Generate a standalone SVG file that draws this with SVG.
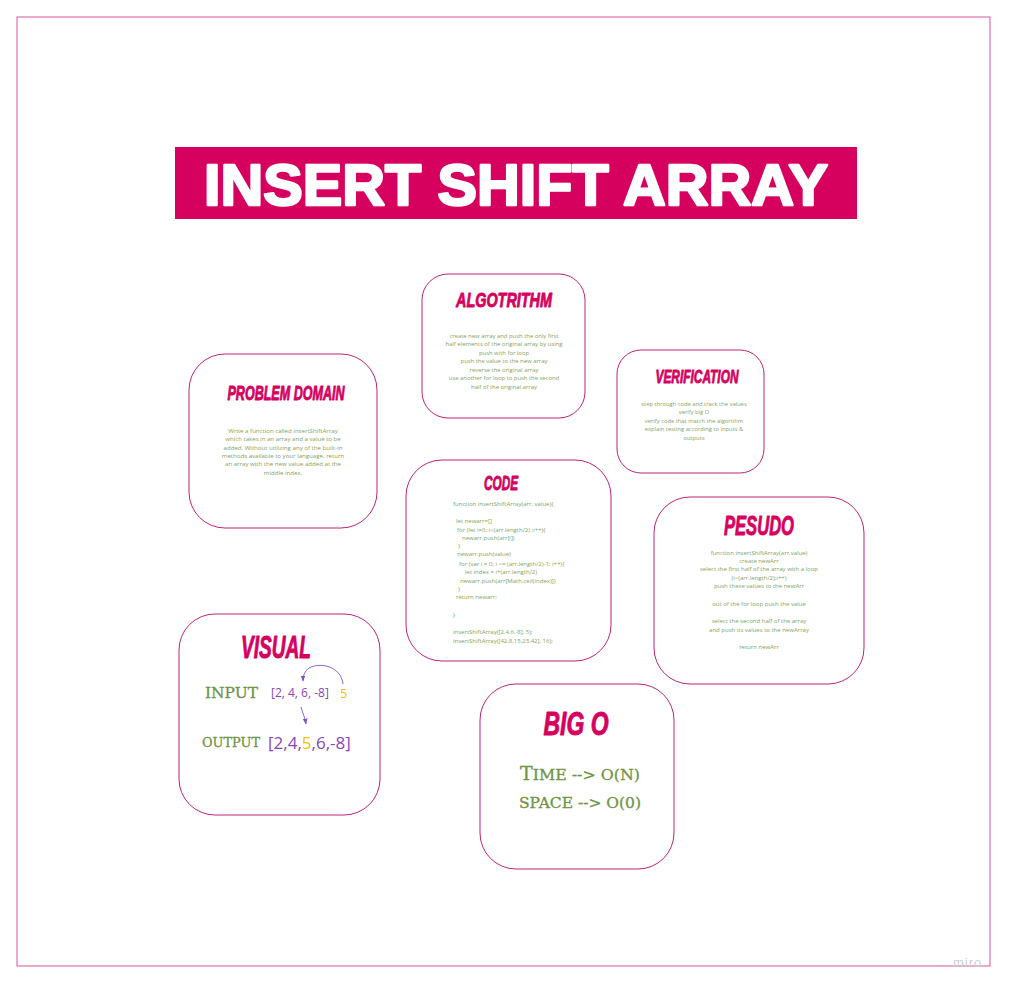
<svg xmlns="http://www.w3.org/2000/svg" width="1010" height="989" viewBox="0 0 1010 989">
<defs>
<style>
.frame{fill:none;stroke:#e070ac;stroke-width:1.2}
.card{fill:#fff;stroke:#bd2477;stroke-width:1}
.head{font-family:"Liberation Sans",Arial,sans-serif;font-weight:bold;font-style:italic;fill:#d6005f;stroke:#d6005f;stroke-width:0.9;stroke-linejoin:round;text-anchor:middle}
.body{font-family:"Open Sans","Liberation Sans",sans-serif;fill:#7fa35e;text-anchor:middle}
.code{font-family:"Open Sans","Liberation Sans",sans-serif;fill:#7fa35e;font-size:6px}
.slab{font-family:"DejaVu Serif","Liberation Serif",serif;fill:#6f9444;stroke:#6f9444;stroke-width:0.3}
.arr{fill:none;stroke:#7b52c4;stroke-width:0.9}
</style>
<marker id="ah" viewBox="0 0 10 10" refX="9" refY="5" markerWidth="6" markerHeight="6" orient="auto" markerUnits="userSpaceOnUse">
<path d="M0,1 L10,5 L0,9 z" fill="#7b52c4"/>
</marker>
</defs>
<rect width="1010" height="989" fill="#fff"/>
<rect class="frame" x="17" y="17" width="973" height="949"/>
<g id="title">
<rect x="175" y="147" width="682" height="72" fill="#d6005f"/>
<text x="516" y="205" font-family="Liberation Sans,Arial,sans-serif" font-weight="bold" font-size="58" fill="#fff" stroke="#fff" stroke-width="2.5" stroke-linejoin="round" text-anchor="middle" textLength="624" lengthAdjust="spacingAndGlyphs">INSERT SHIFT ARRAY</text>
</g>
<g id="algorithm">
<rect class="card" x="422" y="274" width="163" height="144" rx="26"/>
<text class="head" x="504" y="307" font-size="21" textLength="96" lengthAdjust="spacingAndGlyphs">ALGOTRITHM</text>
<g class="body" font-size="5.9">
<text x="504" y="338">create new array and push the only first</text>
<text x="504" y="346">half elements of the original array by using</text>
<text x="504" y="355">push with for loop</text>
<text x="504" y="363">push the value to the new array</text>
<text x="504" y="372">reverse the original array</text>
<text x="504" y="380">use another for loop to push the second</text>
<text x="504" y="389">half of the original array</text>
</g>
</g>
<g id="problem-domain">
<rect class="card" x="189" y="354" width="188" height="174" rx="36"/>
<text class="head" x="286" y="400" font-size="20" textLength="117" lengthAdjust="spacingAndGlyphs">PROBLEM DOMAIN</text>
<g class="body" font-size="6.1">
<text x="283" y="433">Write a function called insertShiftArray</text>
<text x="283" y="441">which takes in an array and a value to be</text>
<text x="283" y="450">added. Without utilizing any of the built-in</text>
<text x="283" y="458">methods available to your language, return</text>
<text x="283" y="466">an array with the new value added at the</text>
<text x="283" y="475">middle index.</text>
</g>
</g>
<g id="verification">
<rect class="card" x="617" y="350" width="147" height="123" rx="24"/>
<text class="head" x="697" y="383" font-size="19" textLength="83" lengthAdjust="spacingAndGlyphs">VERIFICATION</text>
<g class="body" font-size="5.8">
<text x="694" y="406">step through code and track the values</text>
<text x="694" y="414">verify big O</text>
<text x="694" y="423">verify code that match the algorithm</text>
<text x="694" y="431">explain testing according to inputs &amp;</text>
<text x="694" y="440">outputs</text>
</g>
</g>
<g id="code">
<rect class="card" x="406" y="460" width="205" height="201" rx="36"/>
<text class="head" x="501" y="490" font-size="20" textLength="34" lengthAdjust="spacingAndGlyphs">CODE</text>
<g class="code">
<text x="453" y="506">function insertShiftArray(arr, value){</text>
<text x="456" y="523">let newarr=[]</text>
<text x="457" y="532">for (let i=0; i&lt;(arr.length/2) ;i++){</text>
<text x="462" y="540">newarr.push(arr[i])</text>
<text x="458" y="548">}</text>
<text x="457" y="556">newarr.push(value)</text>
<text x="459" y="566">for (var i = 0; i &lt;= (arr.length/2)-1; i++){</text>
<text x="465" y="574">let index = i+(arr.length/2)</text>
<text x="460" y="583">newarr.push(arr[Math.ceil(index)])</text>
<text x="458" y="591">}</text>
<text x="456" y="599">return newarr;</text>
<text x="453" y="617">}</text>
<text x="453" y="634">insertShiftArray([2,4,6,-8], 5);</text>
<text x="453" y="643">insertShiftArray([42,8,15,23,42], 16);</text>
</g>
</g>
<g id="pesudo">
<rect class="card" x="654" y="497" width="210" height="187" rx="36"/>
<text class="head" x="759" y="535" font-size="27" textLength="70" lengthAdjust="spacingAndGlyphs">PESUDO</text>
<g class="body" font-size="6">
<text x="759" y="555">function insertShiftArray(arr,value)</text>
<text x="759" y="563">create newArr</text>
<text x="759" y="571">select the first half of the array with a loop</text>
<text x="759" y="580">(i&lt;(arr.length/2);i++)</text>
<text x="759" y="588">push these values to the newArr</text>
<text x="759" y="606">out of the for loop push the value</text>
<text x="759" y="623">select the second half of the array</text>
<text x="759" y="632">and push its values to the newArray</text>
<text x="759" y="649">return newArr</text>
</g>
</g>
<g id="visual">
<rect class="card" x="179" y="614" width="201" height="201" rx="36"/>
<text class="head" x="276" y="658" font-size="31" textLength="70" lengthAdjust="spacingAndGlyphs">VISUAL</text>
<text class="slab" x="205" y="698" font-size="15" textLength="53" lengthAdjust="spacingAndGlyphs">INPUT</text>
<text x="271" y="697" font-family="Open Sans,Liberation Sans,sans-serif" font-size="12" fill="#8a46b8">[2, 4, 6, -8]</text>
<text x="340" y="698" font-family="Open Sans,Liberation Sans,sans-serif" font-size="13" fill="#f5c000">5</text>
<text class="slab" x="202" y="747" font-size="13.5" textLength="58" lengthAdjust="spacingAndGlyphs">OUTPUT</text>
<text x="268" y="749" font-family="Open Sans,Liberation Sans,sans-serif" font-size="17" fill="#8a46b8">[2,4,<tspan fill="#f5c000">5</tspan>,6,-8]</text>
</g>
<g id="big-o">
<rect class="card" x="480" y="684" width="194" height="185" rx="36"/>
<text class="head" x="576" y="735" font-size="33" textLength="65" lengthAdjust="spacingAndGlyphs">BIG O</text>
<text class="slab" x="520" y="780" font-size="15" textLength="120" lengthAdjust="spacingAndGlyphs"><tspan font-size="18">T</tspan>IME --&gt; O(N)</text>
<text class="slab" x="519" y="808" font-size="14" textLength="122" lengthAdjust="spacingAndGlyphs">SPACE --&gt; O(0)</text>
</g>
<g id="connectors">
<path class="arr" d="M343,684 C341,666 320,662 309,668 C305,671 303,675 303,681" marker-end="url(#ah)"/>
<path class="arr" d="M301,707 C303,714 305,718 306,724" marker-end="url(#ah)"/>
</g>
<text x="953" y="967" font-family="Liberation Sans,Arial,sans-serif" font-size="13" fill="#cfcfcf" letter-spacing="1">miro</text>
</svg>
